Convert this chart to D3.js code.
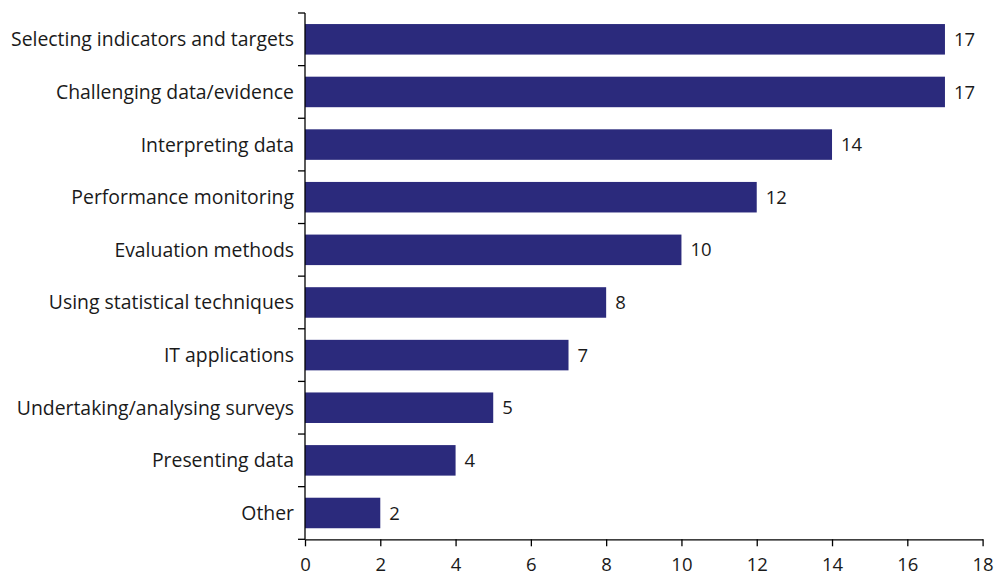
<!DOCTYPE html>
<html><head><meta charset="utf-8">
<script src="https://cdn.jsdelivr.net/npm/d3@7/dist/d3.min.js"></script>
<style>body{margin:0;background:#fff}svg{display:block}</style>
</head><body>
<svg id="c" width="997" height="576"></svg>
<script>
const categories = ["Selecting indicators and targets","Challenging data/evidence","Interpreting data","Performance monitoring","Evaluation methods","Using statistical techniques","IT applications","Undertaking/analysing surveys","Presenting data","Other"];
const values = [17,17,14,12,10,8,7,5,4,2];
const xTicks = [0,2,4,6,8,10,12,14,16,18];

const svg = d3.select("#c");
const font = "'Open Sans', sans-serif";
const x = d3.scaleLinear().domain([0,18]).range([305,982.6]);
const y = d3.scaleBand().domain(categories).range([13,539.3]).paddingInner(0.42).paddingOuter(0.21);
const color = "#2b2a7c";

svg.selectAll("rect.bar").data(values).join("rect")
  .attr("x", x(0)).attr("y",(d,i)=>y(categories[i]))
  .attr("width", d=>x(d)-x(0)).attr("height", y.bandwidth()).attr("fill", color);

svg.selectAll("text.val").data(values).join("text")
  .attr("x", d=>x(d)+9).attr("y",(d,i)=>y(categories[i])+y.bandwidth()/2)
  .attr("dy","0.36em").attr("font-family",font).attr("font-size",18.5).attr("fill","#1a1a1a")
  .text(d=>d);

// y axis line with ticks at band boundaries
const step = y.step();
const g = svg.append("g").attr("stroke","#000").attr("stroke-width",1.3);
g.append("line").attr("x1",305).attr("x2",305).attr("y1",13).attr("y2",539.3);
d3.range(categories.length+1).forEach(i=>{
  const yy = 13 + i*step;
  g.append("line").attr("x1",298).attr("x2",305).attr("y1",yy).attr("y2",yy);
});
svg.selectAll("text.cat").data(categories).join("text")
  .attr("x",294).attr("y",d=>y(d)+y.bandwidth()/2).attr("dy","0.36em")
  .attr("text-anchor","end").attr("font-family",font).attr("font-size",19.4).attr("fill","#1a1a1a")
  .text(d=>d);

// x axis
const xa = svg.append("g").attr("transform","translate(0,539.3)")
  .call(d3.axisBottom(x).tickValues(xTicks).tickSize(7).tickPadding(12).tickSizeOuter(0));
xa.select(".domain").attr("stroke","#000").attr("stroke-width",1.3);
xa.selectAll(".tick line").attr("stroke","#000").attr("stroke-width",1.3);
xa.selectAll("text").attr("font-family",font).attr("font-size",18.5).attr("fill","#1a1a1a");
</script>
</body></html>
